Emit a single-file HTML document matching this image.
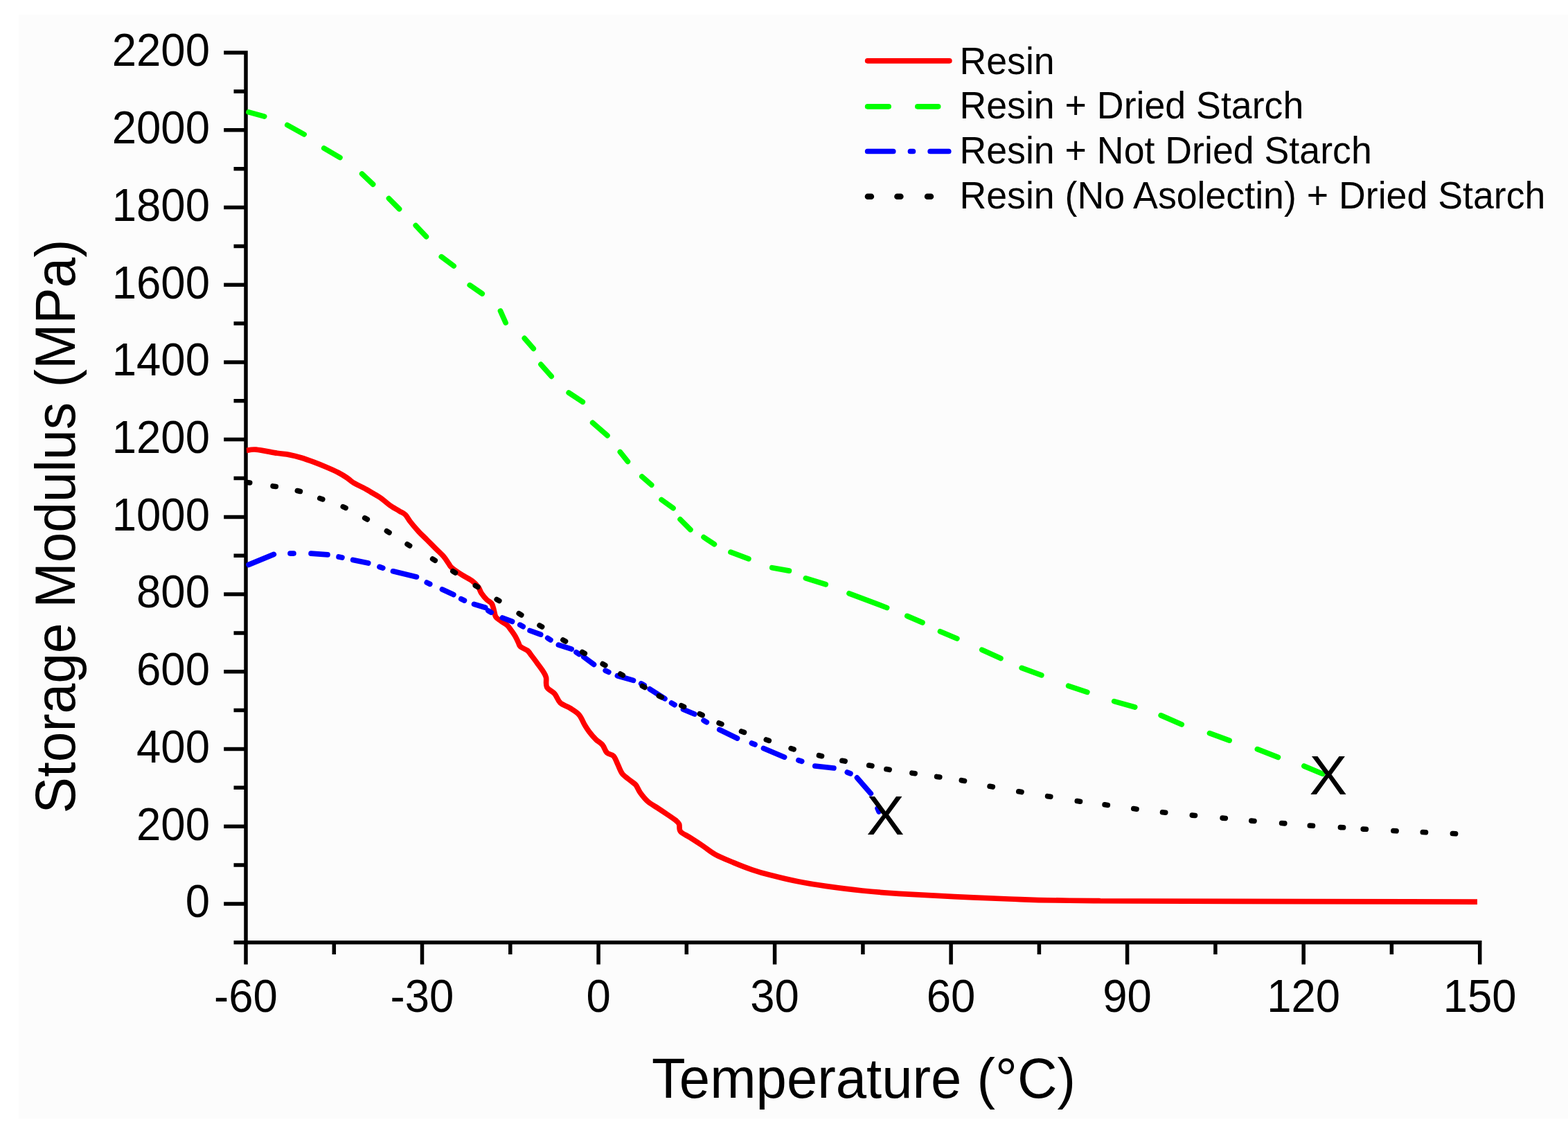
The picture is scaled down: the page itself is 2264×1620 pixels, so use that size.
<!DOCTYPE html>
<html><head><meta charset="utf-8"><title>Storage Modulus vs Temperature</title>
<style>html,body{margin:0;padding:0;background:#fff;}svg{display:block;}text{font-family:"Liberation Sans",Arial,sans-serif;fill:#000;}</style></head><body>
<svg width="2264" height="1620" viewBox="0 0 2264 1620">
<rect x="0" y="0" width="2264" height="1620" fill="#ffffff"/>
<rect x="27" y="21" width="2237" height="1594" fill="#fcfcfc"/>
<path d="M355.0,73.3V1392.4M337.5,1360.8H2139.5M323.2,1304.9H355.0M323.2,1193.2H355.0M323.2,1081.5H355.0M323.2,969.8H355.0M323.2,858.1H355.0M323.2,746.4H355.0M323.2,634.6H355.0M323.2,522.9H355.0M323.2,411.2H355.0M323.2,299.5H355.0M323.2,187.8H355.0M323.2,76.1H355.0M337.5,1360.8H355.0M337.5,1249.0H355.0M337.5,1137.3H355.0M337.5,1025.6H355.0M337.5,913.9H355.0M337.5,802.2H355.0M337.5,690.5H355.0M337.5,578.8H355.0M337.5,467.1H355.0M337.5,355.4H355.0M337.5,243.7H355.0M337.5,131.9H355.0M355.0,1360.8V1392.4M609.5,1360.8V1392.4M864.1,1360.8V1392.4M1118.6,1360.8V1392.4M1373.1,1360.8V1392.4M1627.6,1360.8V1392.4M1882.2,1360.8V1392.4M2136.7,1360.8V1392.4M482.3,1360.8V1378M736.8,1360.8V1378M991.3,1360.8V1378M1245.9,1360.8V1378M1500.4,1360.8V1378M1754.9,1360.8V1378M2009.4,1360.8V1378" stroke="#000" stroke-width="5.5" fill="none" stroke-linecap="butt"/>
<g font-size="63.5" text-anchor="end">
<text transform="translate(303,1324.2) scale(1,1.045)">0</text>
<text transform="translate(303,1212.5) scale(1,1.045)">200</text>
<text transform="translate(303,1100.8) scale(1,1.045)">400</text>
<text transform="translate(303,989.1) scale(1,1.045)">600</text>
<text transform="translate(303,877.4) scale(1,1.045)">800</text>
<text transform="translate(303,765.7) scale(1,1.045)">1000</text>
<text transform="translate(303,653.9) scale(1,1.045)">1200</text>
<text transform="translate(303,542.2) scale(1,1.045)">1400</text>
<text transform="translate(303,430.5) scale(1,1.045)">1600</text>
<text transform="translate(303,318.8) scale(1,1.045)">1800</text>
<text transform="translate(303,207.1) scale(1,1.045)">2000</text>
<text transform="translate(303,95.4) scale(1,1.045)">2200</text>
</g>
<g font-size="63.5" text-anchor="middle">
<text transform="translate(355.0,1460.8) scale(1,1.045)">-60</text>
<text transform="translate(609.5,1460.8) scale(1,1.045)">-30</text>
<text transform="translate(864.1,1460.8) scale(1,1.045)">0</text>
<text transform="translate(1118.6,1460.8) scale(1,1.045)">30</text>
<text transform="translate(1373.1,1460.8) scale(1,1.045)">60</text>
<text transform="translate(1627.6,1460.8) scale(1,1.045)">90</text>
<text transform="translate(1882.2,1460.8) scale(1,1.045)">120</text>
<text transform="translate(2136.7,1460.8) scale(1,1.045)">150</text>
</g>
<text transform="translate(1247,1585.2) scale(1,1.027)" font-size="79.7" text-anchor="middle">Temperature (°C)</text>
<text transform="translate(108.4,760) rotate(-90) scale(1,1.034)" font-size="78.5" text-anchor="middle">Storage Modulus (MPa)</text>
<path d="M356.0,650.4C358.3,650.2 362.4,648.5 369.7,649.1C377.0,649.8 392.0,653.0 400.0,654.3C408.0,655.5 411.8,655.5 417.7,656.6C423.6,657.7 429.4,659.2 435.3,661.0C441.2,662.8 447.1,665.0 453.0,667.2C458.9,669.4 464.8,671.8 470.7,674.3C476.6,676.8 483.1,679.6 488.3,682.2C493.5,684.9 497.9,687.7 501.6,690.2C505.3,692.7 506.0,694.4 510.4,697.0C514.8,699.6 523.7,703.7 528.1,706.1C532.5,708.5 533.2,709.2 536.9,711.4C540.6,713.6 545.8,716.3 550.2,719.4C554.6,722.5 559.0,726.8 563.4,729.9C567.8,733.0 573.0,735.6 576.7,737.9C580.4,740.1 582.9,740.8 585.5,743.4C588.1,746.0 589.4,749.4 592.6,753.5C595.8,757.6 600.8,763.4 604.8,767.8C608.8,772.1 612.8,775.6 616.7,779.6C620.7,783.6 624.5,787.5 628.5,791.5C632.5,795.5 637.2,799.6 640.4,803.3C643.6,807.0 645.8,811.0 647.8,813.7C649.8,816.4 649.0,816.9 652.2,819.6C655.4,822.3 662.0,826.8 667.0,830.0C672.0,833.2 677.9,835.9 681.9,838.9C685.9,841.9 688.5,844.8 690.7,847.8C692.9,850.8 693.2,853.7 695.2,856.7C697.2,859.7 700.1,863.1 702.6,865.6C705.1,868.1 708.3,869.0 710.0,871.5C711.7,874.0 712.0,877.2 713.0,880.4C714.0,883.6 714.2,888.0 715.9,890.7C717.6,893.4 720.6,894.7 723.3,896.7C726.0,898.7 729.7,900.4 732.2,902.6C734.7,904.8 736.1,907.3 738.1,910.0C740.1,912.7 742.4,915.9 744.1,918.9C745.8,921.9 747.3,925.3 748.5,927.8C749.7,930.3 749.3,931.7 751.5,933.7C753.7,935.7 759.2,937.4 761.9,939.6C764.6,941.8 765.3,943.8 767.8,947.0C770.3,950.2 774.0,955.2 776.7,958.9C779.4,962.6 782.1,966.1 784.1,969.3C786.1,972.5 787.6,974.3 788.5,978.1C789.4,981.9 787.5,988.2 789.6,992.1C791.7,996.0 797.7,998.0 800.9,1001.7C804.1,1005.5 805.2,1011.1 808.9,1014.6C812.6,1018.1 818.8,1019.7 823.3,1022.6C827.8,1025.5 832.7,1028.2 836.2,1032.2C839.7,1036.2 841.8,1042.6 844.2,1046.6C846.6,1050.6 847.9,1052.8 850.6,1056.3C853.3,1059.8 857.0,1064.3 860.2,1067.5C863.4,1070.7 867.2,1072.3 869.9,1075.5C872.6,1078.7 873.6,1084.1 876.3,1086.8C879.0,1089.5 883.2,1088.7 885.9,1091.6C888.6,1094.5 890.2,1100.1 892.3,1104.4C894.4,1108.7 895.8,1113.5 898.7,1117.3C901.7,1121.0 906.8,1124.2 910.0,1126.9C913.2,1129.6 915.6,1130.4 918.0,1133.3C920.4,1136.2 921.5,1140.5 924.4,1144.5C927.3,1148.5 931.3,1153.7 935.6,1157.4C939.9,1161.2 945.3,1163.8 950.1,1167.0C954.9,1170.2 960.2,1173.7 964.5,1176.6C968.8,1179.5 973.1,1182.4 975.8,1184.6C978.5,1186.8 979.5,1187.3 980.6,1190.0C981.7,1192.7 980.0,1197.3 982.5,1200.5C985.0,1203.7 990.6,1205.6 995.9,1209.0C1001.2,1212.4 1008.3,1217.0 1014.5,1221.1C1020.7,1225.2 1025.5,1229.7 1033.0,1233.8C1040.5,1237.9 1050.7,1241.9 1059.5,1245.6C1068.3,1249.3 1077.2,1252.8 1086.0,1255.8C1094.8,1258.8 1101.5,1260.8 1112.5,1263.6C1123.5,1266.4 1139.0,1270.2 1152.3,1272.8C1165.5,1275.4 1176.5,1277.2 1192.0,1279.4C1207.5,1281.6 1227.3,1284.2 1245.0,1286.0C1262.7,1287.8 1275.9,1288.9 1298.0,1290.3C1320.1,1291.7 1351.1,1293.3 1377.6,1294.6C1404.1,1295.9 1436.6,1297.2 1457.0,1298.0C1477.4,1298.8 1479.5,1299.2 1500.0,1299.6C1520.5,1300.0 1556.1,1300.4 1580.0,1300.6C1603.9,1300.8 1551.3,1300.7 1643.5,1301.0C1735.7,1301.3 2051.4,1302.0 2133.0,1302.2" stroke="#ff0000" stroke-width="7.7" fill="none" stroke-linejoin="round" stroke-linecap="butt"/>
<path d="M359.0,161.9L381.7,168.1M414.8,180.5L439.1,194.0M467.8,214.0L490.9,227.5M522.7,251.0L538.6,266.1M561.5,286.6L576.5,301.7M600.3,325.6L615.4,341.6M637.3,370.7L655.2,384.0M678.3,411.7L696.2,424.0M722.5,448.9L730.1,466.0M757.3,488.4L770.2,503.3M781.0,526.2L796.1,543.3M821.2,567.0L841.3,580.3M855.7,610.3L877.0,628.8M895.4,652.6L906.4,666.4M926.9,688.1L940.7,700.1M955.1,721.5L972.0,733.7M982.1,749.9L996.9,764.7M1016.1,775.6L1031.4,785.7M1055.0,797.2L1080.9,806.9M1114.8,819.7L1139.4,824.1M1163.4,834.9L1192.2,843.8M1226.0,856.8L1280.6,877.5M1309.8,889.4L1331.9,898.9M1357.5,911.7L1381.8,922.0M1417.8,938.2L1444.9,950.6M1475.2,964.4L1503.8,974.9M1542.7,990.3L1569.8,999.3M1608.7,1012.6L1638.7,1021.0M1676.2,1032.9L1706.2,1046.0M1746.5,1058.6L1775.1,1069.1M1815.4,1081.7L1845.4,1093.4M1882.9,1106.1L1909.5,1117.2" stroke="#00ff00" stroke-width="7.7" fill="none" stroke-linecap="round"/>
<path d="M359.0,815.4L395.4,800.4M419.0,799.1L424.0,799.1M449.1,799.2L473.0,800.9M489.1,804.0L493.9,805.0M509.7,808.4L531.7,813.0M548.0,818.5L552.8,820.1M567.5,824.8L601.4,832.9M616.3,841.1L620.7,843.3M638.5,851.1L654.8,858.6M665.8,864.8L670.4,867.0M684.5,872.4L700.7,877.3M704.9,881.7L709.1,884.3M725.4,892.0L739.6,897.4M750.8,902.2L755.2,904.6M765.1,910.5L780.7,916.1M790.7,921.3L794.9,923.9M806.4,931.2L825.2,937.2M832.0,941.7L836.2,944.5M842.8,948.5L857.5,959.4M874.2,968.2L878.8,970.4M891.4,975.7L914.5,982.4M925.7,987.0L930.1,989.4M938.3,994.9L959.9,1008.8M969.6,1015.0L974.0,1017.6M986.5,1024.2L1002.8,1031.0M1016.1,1040.2L1020.3,1042.8M1038.8,1053.5L1064.5,1066.0M1085.4,1073.1L1090.0,1074.9M1102.5,1080.5L1132.6,1093.2M1152.9,1097.8L1157.7,1099.2M1176.8,1106.0L1203.9,1109.0M1223.3,1115.1L1227.9,1116.9M1237.5,1122.9L1257.3,1145.7M1267.1,1167.3L1269.1,1171.9" stroke="#0000ff" stroke-width="7.7" fill="none" stroke-linecap="round"/>
<path d="M356.5,696.4L360.7,697.0M394.1,701.9L398.3,702.5M429.4,708.5L433.4,709.5M461.8,719.5L465.8,720.9M495.3,731.6L499.1,733.4M526.7,747.9L530.3,749.9M558.4,766.7L562.0,768.9M588.0,785.7L591.6,787.9M624.6,807.1L628.2,809.3M653.8,824.8L657.4,827.0M686.3,845.4L689.9,847.6M717.2,865.4L720.8,867.6M749.2,885.7L752.8,887.9M779.0,902.9L782.6,905.1M812.9,923.9L816.5,926.1M840.7,941.4L844.3,943.6M870.2,958.6L873.8,960.6M895.7,973.0L899.3,975.0M927.4,990.5L931.0,992.5M951.4,1004.8L955.2,1006.6M983.8,1018.8L987.6,1020.4M1010.3,1030.7L1014.1,1032.5M1038.1,1044.0L1041.9,1045.6M1070.5,1056.0L1074.5,1057.4M1106.3,1068.0L1110.3,1069.4M1142.1,1080.6L1146.1,1081.8M1182.5,1090.7L1186.5,1091.7M1215.9,1098.3L1220.1,1099.1M1254.7,1105.0L1258.9,1105.8M1279.9,1110.5L1284.1,1111.3M1316.9,1116.2L1321.1,1116.8M1352.6,1121.4L1356.8,1122.0M1388.3,1126.7L1392.5,1127.5M1429.1,1135.3L1433.3,1136.1M1470.8,1142.8L1475.0,1143.6M1512.6,1149.7L1516.8,1150.3M1555.3,1156.6L1559.5,1157.2M1595.1,1161.8L1599.3,1162.4M1636.8,1167.6L1641.0,1168.2M1678.5,1172.8L1682.7,1173.2M1721.3,1177.1L1725.5,1177.5M1765.1,1181.1L1769.3,1181.5M1806.8,1185.1L1811.0,1185.5M1850.6,1188.5L1854.8,1188.9M1891.3,1192.0L1895.5,1192.2M1935.4,1194.6L1939.6,1194.8M1968.2,1197.1L1972.4,1197.3M2011.9,1199.5L2016.1,1199.7M2054.3,1201.5L2058.5,1201.7M2097.4,1203.5L2101.6,1203.7" stroke="#000" stroke-width="7.6" fill="none" stroke-linecap="round"/>
<text transform="translate(1918,1147.2) scale(1.04,1.0)" font-size="79" text-anchor="middle">X</text>
<text transform="translate(1278.5,1205.2) scale(1.04,1.0)" font-size="79" text-anchor="middle">X</text>
<g font-size="53.7">
<text transform="translate(1385.4,106.5) scale(1,1.039)">Resin</text>
<text transform="translate(1385.4,171.2) scale(1,1.039)">Resin + Dried Starch</text>
<text transform="translate(1385.4,236.2) scale(1,1.039)">Resin + Not Dried Starch</text>
<text transform="translate(1385.4,301.0) scale(1,1.039)">Resin (No Asolectin) + Dried Starch</text>
</g>
<path d="M1252.6499999999999,87.8H1370.8500000000001" stroke="#ff0000" stroke-width="7.7" stroke-linecap="round"/>
<path d="M1252.6499999999999,153.8H1283.15M1324.85,153.8H1354.65" stroke="#00ff00" stroke-width="7.7" stroke-linecap="round"/>
<path d="M1252.6499999999999,218.5H1289.75M1314.4499999999998,218.5H1318.45M1343.1499999999999,218.5H1369.75" stroke="#0000ff" stroke-width="7.7" stroke-linecap="round"/>
<path d="M1252.9,283.7H1257.9M1295.4,283.7H1300.4M1339,283.7H1344" stroke="#000" stroke-width="8.5" stroke-linecap="round"/>
</svg></body></html>
